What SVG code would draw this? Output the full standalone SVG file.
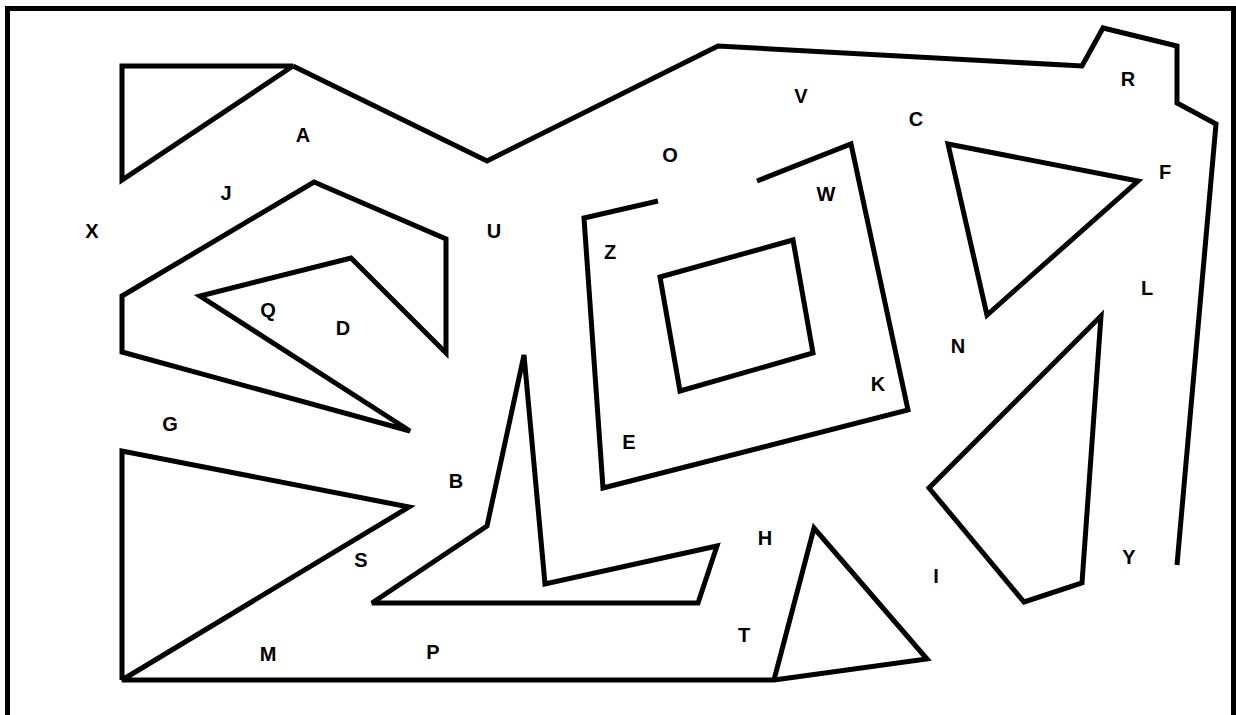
<svg xmlns="http://www.w3.org/2000/svg" width="1236" height="715" viewBox="0 0 1236 715">
<style>
.w{fill:none;stroke:#000;stroke-width:5;stroke-linejoin:miter;stroke-miterlimit:3;stroke-linecap:butt}
.b{fill:none;stroke:#000;stroke-width:5}
text{font-family:"Liberation Sans","DejaVu Sans",sans-serif;font-weight:bold;font-size:20px;fill:#000;text-anchor:middle;dominant-baseline:central}
</style>
<rect width="1236" height="715" fill="#fff"/>
<g id="frame"><rect class="b" x="7.5" y="8.5" width="1226" height="730"/></g>
<g id="walls">
<polygon class="w" points="122,66 293,66 122,180"/>
<polyline class="w" points="293,66 487,161 718,46 1082,66 1103,28 1177,46 1177,103 1216,124 1177,565"/>
<polygon class="w" points="122,296 314,182 446,239 446,353 351,258 200,296 410,431 122,352"/>
<polyline class="w" points="658,201 584,218 603,488 908,410 851,144 757,181"/>
<polygon class="w" points="660,277 793,240 813,353 680,391"/>
<polygon class="w" points="948,144 1138,181 987,315"/>
<polygon class="w" points="1101,316 1082,583 1024,602 929,488"/>
<polyline class="w" points="122,680 122,451 409,507 122,680 774,680 814,528 927,659 774,680"/>
<polygon class="w" points="372,603 487,526 524,355 545,584 717,546 698,603"/>
</g>
<g id="labels">
<text x="303" y="135">A</text>
<text x="801" y="96">V</text>
<text x="916" y="119">C</text>
<text x="1128" y="79">R</text>
<text x="670" y="155">O</text>
<text x="1165" y="172">F</text>
<text x="226" y="193">J</text>
<text x="826" y="194">W</text>
<text x="92" y="231">X</text>
<text x="494" y="231">U</text>
<text x="610" y="252">Z</text>
<text x="1147" y="288">L</text>
<text x="268" y="310">Q</text>
<text x="343" y="328">D</text>
<text x="958" y="346">N</text>
<text x="878" y="384">K</text>
<text x="170" y="424">G</text>
<text x="629" y="442">E</text>
<text x="456" y="481">B</text>
<text x="765" y="538">H</text>
<text x="361" y="560">S</text>
<text x="1129" y="557">Y</text>
<text x="936" y="576">I</text>
<text x="744" y="635">T</text>
<text x="268" y="654">M</text>
<text x="433" y="652">P</text>
</g>
</svg>
